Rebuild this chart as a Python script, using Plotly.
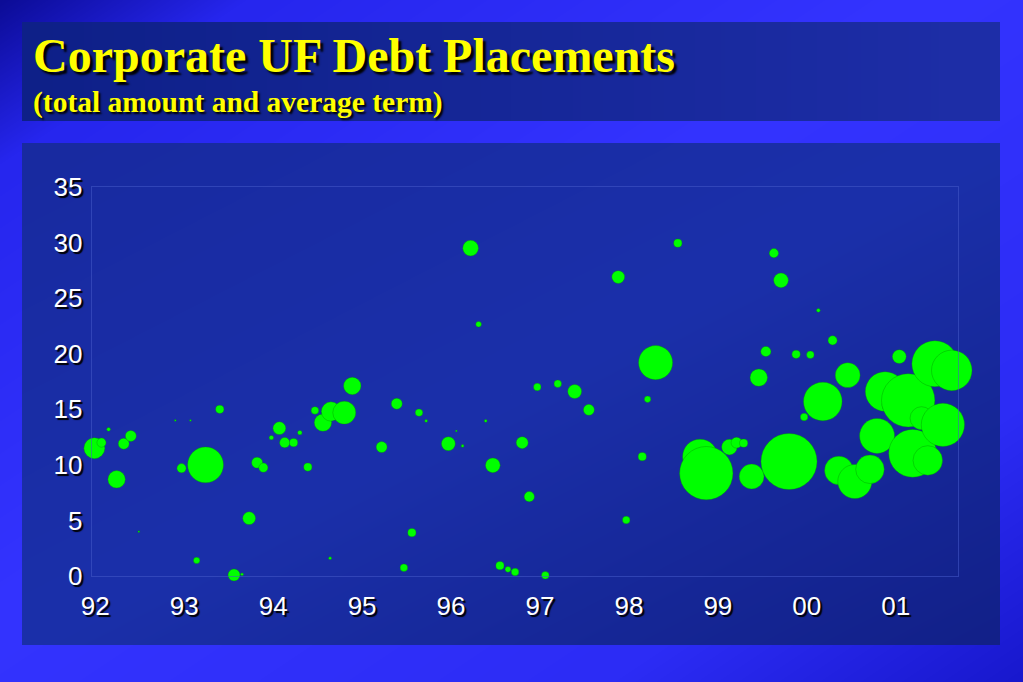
import zlib, struct, base64
import numpy as np
import plotly.graph_objects as go

# ---------------- data ----------------
year = [91.99, 92.07, 92.15, 92.24, 92.32, 92.40, 92.49, 92.90, 92.97, 93.07,
        93.14, 93.24, 93.40, 93.56, 93.65, 93.73, 93.82, 93.89, 93.98, 94.07,
        94.13, 94.23, 94.30, 94.39, 94.47, 94.56, 94.64, 94.65, 94.80, 94.89,
        95.22, 95.39, 95.47, 95.56, 95.64, 95.72, 95.97, 96.06, 96.13, 96.22,
        96.31, 96.39, 96.47, 96.55, 96.64, 96.72, 96.80, 96.88, 96.97, 97.06,
        97.20, 97.39, 97.55, 97.88, 97.97, 98.15, 98.21, 98.30, 98.55, 98.80,
        98.87, 99.13, 99.21, 99.29, 99.38, 99.46, 99.54, 99.63, 99.71, 99.80,
        99.88, 99.97, 100.04, 100.13, 100.18, 100.29, 100.36, 100.46, 100.54, 100.71,
        100.79, 100.88, 100.95, 101.04, 101.14, 101.19, 101.29, 101.36, 101.44, 101.53,
        101.63, 101.72]
term = [11.5, 12.0, 13.2, 8.7, 11.9, 12.6, 4.0, 14.0, 9.7, 14.0,
        1.4, 10.0, 15.0, 0.1, 0.15, 5.2, 10.2, 9.75, 12.45, 13.3,
        12.0, 12.0, 12.9, 9.8, 14.9, 13.8, 1.6, 14.8, 14.7, 17.1,
        11.6, 15.5, 0.75, 3.9, 14.7, 13.95, 11.9, 13.05, 11.7, 29.5,
        22.65, 13.95, 9.96, 0.93, 0.6, 0.36, 12.0, 7.14, 17.0, 0.06,
        17.3, 16.6, 14.95, 26.9, 5.04, 10.74, 15.9, 19.2, 29.95, 10.74,
        9.25, 11.6, 12.0, 11.95, 8.95, 17.85, 20.2, 29.05, 26.6, 10.3,
        19.95, 14.3, 19.9, 23.9, 15.7, 21.2, 9.5, 18.07, 8.5, 9.6,
        12.6, 16.6, 15.4, 19.74, 15.8, 11.04, 14.2, 10.4, 19.1, 13.6,
        18.5, 9.93]
amount = [110, 21, 3.4, 76, 30, 30, 0.8, 0.8, 21, 0.8,
          10, 322, 17, 36, 2, 41, 30, 21, 5, 41,
          26, 17, 5, 17, 14, 76, 2, 93, 132, 76,
          30, 30, 14, 17, 14, 2, 48, 0.8, 2, 61,
          7.6, 2, 54, 17, 8, 14, 36, 26, 14, 14,
          14, 48, 30, 41, 14, 17, 10, 290, 17, 306,
          712, 61, 30, 17, 154, 76, 26, 21, 54, 787,
          17, 14, 14, 3.4, 373, 21, 203, 154, 290, 203,
          306, 391, 85, 48, 712, 572, 132, 217, 529, 467,
          410, 529]
tick_years = list(range(92, 102))
tick_labels = ["92", "93", "94", "95", "96", "97", "98", "99", "00", "01"]
y_ticks = [0, 5, 10, 15, 20, 25, 30, 35]

W, H = 1023, 682

# ---------------- background image ----------------
def png_uri(arr):
    h, w, _ = arr.shape
    raw = b"".join(b"\x00" + arr[i].tobytes() for i in range(h))
    def chunk(t, d):
        c = struct.pack(">I", len(d)) + t + d
        return c + struct.pack(">I", zlib.crc32(t + d) & 0xffffffff)
    png = (b"\x89PNG\r\n\x1a\n"
           + chunk(b"IHDR", struct.pack(">IIBBBBB", w, h, 8, 2, 0, 0, 0))
           + chunk(b"IDAT", zlib.compress(raw, 9))
           + chunk(b"IEND", b""))
    return "data:image/png;base64," + base64.b64encode(png).decode()

X, Y = np.meshgrid(np.arange(W), np.arange(H))
s = (X / W + Y / H) / 2
stops = [0, 0.12, 0.45, 0.8, 1.0]
img = np.zeros((H, W, 3))
img[..., 0] = np.interp(s, stops, [12, 38, 52, 44, 24])
img[..., 1] = np.interp(s, stops, [12, 38, 52, 44, 24])
img[..., 2] = np.interp(s, stops, [150, 238, 255, 245, 205])

# title panel
tx0, tx1, ty0, ty1 = 22, 1000, 22, 121
t = (X - tx0) / (tx1 - tx0)
m = (X >= tx0) & (X < tx1) & (Y >= ty0) & (Y < ty1)
for c, (a, b) in enumerate([(14, 30), (32, 46), (136, 168)]):
    img[..., c] = np.where(m, a + (b - a) * t, img[..., c])

# plot panel
px0, px1, py0, py1 = 22, 1000, 143, 645
s2 = ((X - px0) / (px1 - px0) + (Y - py0) / (py1 - py0)) / 2
m = (X >= px0) & (X < px1) & (Y >= py0) & (Y < py1)
for c, vals in enumerate([[24, 27, 18], [42, 48, 32], [160, 170, 136]]):
    img[..., c] = np.where(m, np.interp(s2, [0, 0.5, 1.0], vals), img[..., c])

bg_uri = png_uri(np.clip(img, 0, 255).astype(np.uint8))

# ---------------- figure ----------------
fig = go.Figure()
fig.add_trace(go.Scatter(
    x=year, y=term, mode="markers",
    marker=dict(size=amount, sizemode="area", sizeref=0.5,
                color="#00ff00", opacity=1,
                line=dict(color="rgba(0,140,0,0.6)", width=0.6)),
    cliponaxis=False, hoverinfo="x+y",
))

tick_font = dict(family="Liberation Sans", size=26, color="white",
                 shadow="2px 2px 1px black")
line_col = "rgba(70,90,200,0.55)"

fig.update_layout(
    width=W, height=H,
    margin=dict(l=0, r=0, t=0, b=0, autoexpand=False),
    paper_bgcolor="rgba(0,0,0,0)", plot_bgcolor="rgba(0,0,0,0)",
    showlegend=False,
    images=[dict(source=bg_uri, xref="paper", yref="paper", x=0, y=1,
                 sizex=1, sizey=1, xanchor="left", yanchor="top",
                 sizing="stretch", layer="below")],
    xaxis=dict(domain=[91.7 / W, 958 / W], range=[91.96, 101.70], automargin=False,
               tickmode="array", tickvals=tick_years, ticktext=tick_labels,
               showgrid=False, zeroline=False, ticks="",
               showline=True, mirror=True, linecolor=line_col,
               linewidth=1, tickfont=tick_font, ticklabelstandoff=7),
    yaxis=dict(domain=[1 - 576 / H, 1 - 187 / H], range=[0, 35], automargin=False,
               tickmode="array", tickvals=y_ticks,
               showgrid=False, zeroline=False, ticks="",
               showline=True, mirror=True, linecolor=line_col,
               linewidth=1, tickfont=tick_font, ticklabelstandoff=3),
    annotations=[
        dict(text="<b>Corporate UF Debt Placements</b>", xref="paper", yref="paper",
             x=31 / W, y=1 - 55 / H, xanchor="left", yanchor="middle", showarrow=False,
             font=dict(family="Liberation Serif", size=48, color="#ffff00",
                       shadow="3px 3px 2px black")),
        dict(text="<b>(total amount and average term)</b>", xref="paper", yref="paper",
             x=31 / W, y=1 - 103 / H, xanchor="left", yanchor="middle", showarrow=False,
             font=dict(family="Liberation Serif", size=29.5, color="#ffff00",
                       shadow="2px 2px 2px black")),
    ],
)

fig.write_html("out.html", config={"displayModeBar": False},
               post_script="document.body.style.margin='0';document.body.style.overflow='hidden';")
